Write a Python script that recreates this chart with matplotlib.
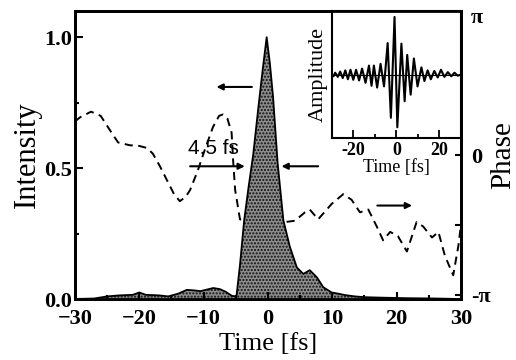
import numpy as np
import matplotlib
matplotlib.use("Agg")
import matplotlib.pyplot as plt

plt.rcParams['font.family'] = ['Liberation Serif', 'DejaVu Serif']
plt.rcParams['font.weight'] = 'bold'

# ---- data ----
int_t = [-30, -27, -25, -23, -21, -20, -19, -17, -15.5, -14, -12.6, -11.5, -10.5, -9.5, -8.5,
         -7.5, -6.6, -5.6, -4.9, -4.35, -3.7, -3.0, -2.3, -1.5, -0.8, -0.2, 0.3, 0.8, 1.5, 2.4,
         3.4, 4.5, 5.5, 6.5, 7.6, 8.6, 9.9, 11, 12, 13.5, 15, 18, 22, 26, 30]
int_v = [0, 0.002, 0.01, 0.014, 0.016, 0.025, 0.016, 0.014, 0.01, 0.02, 0.035, 0.033, 0.03,
         0.036, 0.042, 0.038, 0.028, 0.012, 0.01, 0.13, 0.30, 0.43, 0.55, 0.73, 0.88, 1.0, 0.9,
         0.77, 0.52, 0.3, 0.2, 0.12, 0.096, 0.11, 0.083, 0.045, 0.025, 0.02, 0.015, 0.01, 0.007,
         0.005, 0.003, 0.002, 0]

ph_t = [-30, -29.2, -27.5, -26.0, -24.6, -23.3, -21.5, -20.0, -18.8, -17.9, -16.8, -15.7, -14.6,
        -13.7, -12.8, -12.1, -10.9, -9.8, -8.55, -7.6, -7.0, -6.3, -5.65, -5.4, -5.1, -4.35, -1.0,
        2.6, 4.2, 5.75, 6.5, 7.8, 9.9, 11.7, 13.0, 14.3, 15.6, 16.9, 17.9, 19.0, 20.2, 21.6, 23.1,
        24.1, 25.5, 26.5, 27.5, 28.8, 29.6, 30]
ph_v_pi = [0.24, 0.27, 0.31, 0.28, 0.18, 0.09, 0.07, 0.065, 0.05, 0.01, -0.08, -0.18, -0.28,
           -0.33, -0.30, -0.25, -0.11, 0.04, 0.20, 0.28, 0.29, 0.26, 0.16, -0.05, -0.25, -0.46,
           -0.5, -0.48, -0.47, -0.41, -0.39, -0.46, -0.35, -0.28, -0.32, -0.41, -0.39, -0.51,
           -0.61, -0.55, -0.58, -0.69, -0.48, -0.51, -0.59, -0.55, -0.72, -0.86, -0.65, -0.5]

amp_t = [-30, -29.3, -28.5, -27.3, -26.2, -25.0, -23.8, -22.6, -21.4, -20.1, -18.8, -17.4, -16.0,
         -14.4, -12.8, -11.6, -10.5, -9.0, -7.4, -5.8, -4.1, -2.6, -0.9, 0.4, 2.3, 3.8, 5.0, 6.6,
         8.1, 9.8, 11.6, 13.0, 14.5, 16.0, 17.6, 19.2, 20.7, 22.3, 23.9, 25.5, 27.0, 28.5, 30]
amp_v = [0, -0.03, 0.03, -0.04, 0.05, -0.06, 0.07, -0.08, 0.08, -0.09, 0.08, -0.10, 0.10, -0.14,
         0.15, -0.19, 0.15, -0.22, 0.18, -0.20, 0.53, -0.73, 0.97, -0.89, 0.52, -0.45, 0.33, -0.34,
         0.27, -0.20, 0.12, -0.11, 0.07, -0.08, 0.06, -0.05, 0.08, -0.04, 0.04, -0.03, 0.03, -0.02, 0]

x_ticks = [-30, -20, -10, 0, 10, 20, 30]
y_ticks = [0.0, 0.5, 1.0]
ph_ticks_pi = [-1, -0.5, 0, 0.5, 1]
ph_labels = ['-π', '', '0', '', 'π']
inset_ticks = [-20, 0, 20]

# ---- figure ----
fig = plt.figure(figsize=(5.16, 3.60), dpi=100)
ax = fig.add_axes([0.1453, 0.1694, 0.748, 0.800])
ax2 = ax.twinx()
ax.set_zorder(ax2.get_zorder() + 1)
ax.patch.set_visible(False)

t = np.array(int_t)
v = np.array(int_v)
ax.fill_between(t, 0, v, facecolor='#8c8c8c', edgecolor='#101010', hatch='.....', linewidth=0)
ax.plot(t, v, color='black', lw=1.3)

ax.set_xlim(-30, 30)
ax.set_ylim(0, 1.1)
ax.set_xticks(x_ticks)
ax.set_xticks(np.arange(-25, 30, 10), minor=True)
ax.set_yticks(y_ticks)
ax.set_yticklabels(['0.0', '0.5', '1.0'])
ax.set_yticks([0.25, 0.75], minor=True)
ax.tick_params(axis='both', which='both', direction='in', width=1.5, labelsize=16)
ax.tick_params(axis='x', which='major', length=5, pad=7)
ax.tick_params(axis='x', which='minor', length=3)
ax.tick_params(axis='y', which='major', length=6, pad=2)
ax.tick_params(axis='y', which='minor', length=3)
ax.set_xlabel('Time [fs]', fontsize=19, fontweight='normal', labelpad=3)
ax.set_ylabel('Intensity', fontsize=22, fontweight='normal', labelpad=2)

ph = np.array(ph_v_pi) * np.pi
ax2.plot(ph_t, ph, color='black', lw=1.4, linestyle=(0, (4.2, 2.8)))
ax2.set_ylim(-1.03 * np.pi, 1.03 * np.pi)
ax2.set_yticks(np.array(ph_ticks_pi) * np.pi)
ax2.set_yticklabels(ph_labels)
ax2.tick_params(axis='y', direction='in', length=4, width=1.5, labelsize=16, pad=7)
ax2.set_ylabel('Phase', fontsize=21, fontweight='normal', rotation=90, labelpad=0)

for a in (ax, ax2):
    for s in a.spines.values():
        s.set_linewidth(2.0)

# arrows and annotation
arrow = dict(arrowstyle='-|>', color='black', lw=1.5, mutation_scale=9, shrinkA=0, shrinkB=0)
ax.annotate('', xy=(-8.0, 0.81), xytext=(-2.5, 0.81), arrowprops=arrow)
ax.annotate('', xy=(-3.6, 0.507), xytext=(-12.1, 0.507), arrowprops=arrow)
ax.annotate('', xy=(2.1, 0.507), xytext=(7.8, 0.507), arrowprops=arrow)
ax.annotate('', xy=(22.4, 0.357), xytext=(17.0, 0.357), arrowprops=arrow)
ax.text(-8.4, 0.575, '4.5 fs', family='Liberation Sans', fontweight='normal', fontsize=15,
        ha='center', va='center')

# inset
axi = fig.add_axes([0.6434, 0.6167, 0.2499, 0.3527])
axi.axhline(0, color='black', lw=0.8)
axi.plot(amp_t, amp_v, color='black', lw=1.5)
axi.set_xlim(-30, 30)
axi.set_ylim(-1.07, 1.07)
axi.set_xticks(inset_ticks)
axi.set_xticklabels(['-20', '0', '20'])
axi.set_xticks([-10, 10], minor=True)
axi.set_yticks([])
axi.tick_params(axis='x', which='both', direction='in', width=1.3, labelsize=13, pad=3)
axi.tick_params(axis='x', which='major', length=6)
axi.tick_params(axis='x', which='minor', length=3)
axi.set_xlabel('Time [fs]', fontsize=13, fontweight='normal', labelpad=0)
axi.set_ylabel('Amplitude', fontsize=16, fontweight='normal', labelpad=3)
for s in axi.spines.values():
    s.set_linewidth(1.5)

fig.savefig('out.png', dpi=100)
